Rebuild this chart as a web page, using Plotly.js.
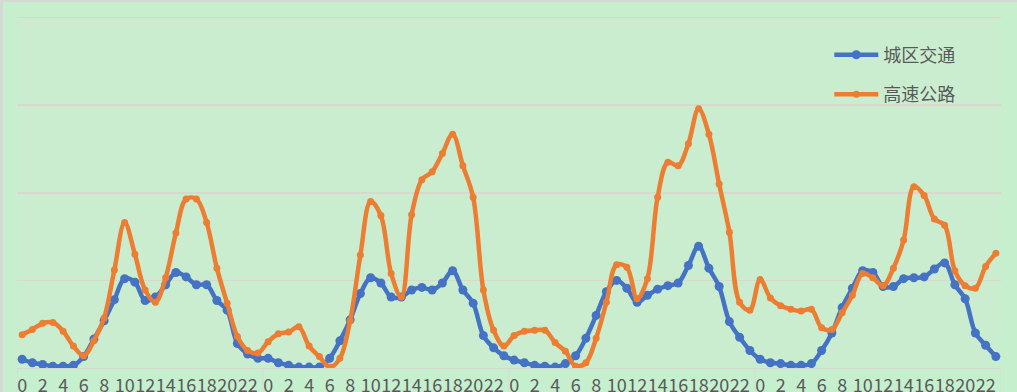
<!DOCTYPE html>
<html>
<head>
<meta charset="utf-8">
<script src="https://cdn.plot.ly/plotly-3.0.1.min.js"></script>
<style>
  html, body { margin: 0; padding: 0; overflow: hidden; background: #c6efce; }
  #chart { position: absolute; left: 0; top: 0; width: 1017px; height: 420px; }
  #bl { position: absolute; left: 0; top: 0; width: 3px; height: 420px; background: #d5d9d3; }
  #bt { position: absolute; left: 0; top: 0; width: 1017px; height: 2px; background: #d5d9d3; }
</style>
</head>
<body>
<div id="chart"></div>
<div id="bl"></div>
<div id="bt"></div>
<script>
// Hour labels shown under the axis (every second hour), repeated per day
const hourLabels = ['0','2','4','6','8','10','12','14','16','18','20','22'];
const hoursPerDay = 24;

// 城区交通 (urban traffic), one array per day
const cityDay1 = [10,6,4,2,2,3,13,33,54,78,102,98,77,81,95,109,104,95,95,77,66,28,16,11];
const cityDay2 = [11,6,3,1,1,1,11,31,55,85,103,97,81,81,89,92,89,97,111,89,74,37,23,14];
const cityDay3 = [9,6,3,2,1,5,14,34,60,87,100,91,75,83,90,94,97,117,139,114,93,53,35,20];
const cityDay4 = [10,6,5,3,3,5,20,40,69,91,111,109,93,93,102,103,104,113,120,95,79,40,26,13];

// 高速公路 (highway), one array per day
const highwayDay1 = [38,44,51,52,42,25,14,31,57,112,166,130,89,75,103,154,193,193,166,114,74,36,20,17];
const highwayDay2 = [30,39,41,47,25,13,1,11,54,129,190,174,108,81,175,215,224,245,267,231,195,89,43,25];
const highwayDay3 = [37,42,43,43,29,19,2,6,34,75,118,115,79,102,195,235,231,256,296,267,210,155,75,66];
const highwayDay4 = [101,80,71,67,65,67,46,44,63,83,108,103,94,114,146,207,197,170,163,111,94,91,116,131];

const seriesNames = ['城区交通', '高速公路'];

const city = [].concat(cityDay1, cityDay2, cityDay3, cityDay4);
const highway = [].concat(highwayDay1, highwayDay2, highwayDay3, highwayDay4);
const nDays = 4;
const xIdx = city.map((_, i) => i);

const tickvals = [], ticktext = [];
for (let d = 0; d < nDays; d++) {
  hourLabels.forEach((lab, k) => { tickvals.push(d * hoursPerDay + k * 2); ticktext.push(lab); });
}

const shapes = [];
for (let d = 0; d <= nDays; d++) {
  shapes.push({
    type: 'line', xref: 'x', yref: 'paper',
    x0: d * hoursPerDay - 0.5, x1: d * hoursPerDay - 0.5, y0: 0, y1: -0.3,
    line: { color: '#d6d9d2', width: 1 }
  });
}

const font = 'Noto Sans CJK SC, Noto Sans, sans-serif';

const traces = [
  {
    x: xIdx, y: city, name: seriesNames[0], type: 'scatter', mode: 'lines+markers',
    line: { color: '#4472C4', width: 4.5, shape: 'spline', smoothing: 1 },
    marker: { color: '#4472C4', size: 9, symbol: 'circle' },
    legendgroup: 'a'
  },
  {
    x: xIdx, y: highway, name: seriesNames[1], type: 'scatter', mode: 'lines+markers',
    line: { color: '#ED7D31', width: 4.5, shape: 'spline', smoothing: 1 },
    marker: { color: '#ED7D31', size: 7, symbol: 'circle' },
    legendgroup: 'b'
  }
];

const layout = {
  width: 1017, height: 420,
  margin: { l: 17, r: 16, t: 15, b: 52 },
  paper_bgcolor: '#c6efce',
  plot_bgcolor: '#caedd0',
  font: { family: font, color: '#595959', size: 18 },
  showlegend: true,
  legend: {
    x: 0.8255, y: 0.939, xanchor: 'left', yanchor: 'top',
    itemwidth: 44,
    bgcolor: 'rgba(0,0,0,0)', font: { size: 18, color: '#595959', family: font },
    traceorder: 'grouped', tracegroupgap: 13
  },
  xaxis: {
    range: [-0.5, nDays * hoursPerDay - 0.5],
    tickmode: 'array', tickvals: tickvals, ticktext: ticktext, tickangle: 0,
    ticklabelstandoff: 1,
    showgrid: false, zeroline: false,
    showline: true, linecolor: '#d6d9d2', linewidth: 1,
    ticks: '', tickfont: { size: 18, color: '#595959', family: font },
    fixedrange: true
  },
  yaxis: {
    range: [0, 403], dtick: 100, tick0: 0,
    showgrid: true, gridcolor: '#dad8cc', gridwidth: 1.5,
    zeroline: false, showticklabels: false, ticks: '', showline: false,
    fixedrange: true
  },
  shapes: shapes
};

Plotly.newPlot('chart', traces, layout, { displayModeBar: false, staticPlot: true });
</script>
</body>
</html>
